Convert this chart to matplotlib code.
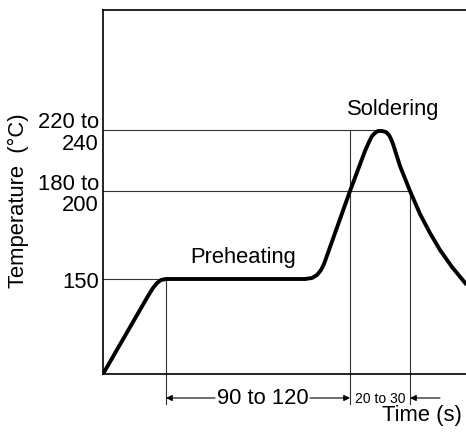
import numpy as np
import matplotlib
matplotlib.use("Agg")
import matplotlib.pyplot as plt

plt.rcParams['font.family'] = ['Liberation Sans', 'DejaVu Sans']

# schematic reflow profile (arbitrary plot units)
time_pts = [0, 45, 50, 54, 58, 63, 202, 209, 214, 218, 221, 247, 262, 266, 269,
            272, 275, 279, 283, 286, 288, 290, 297, 307, 317, 327, 337, 349, 363]
temp_pts = [0, 78, 86, 91, 94, 95, 95, 96, 99, 104, 110, 183, 223, 232, 238,
            241, 243, 243, 242, 239, 235, 230, 208, 183, 160, 141, 124, 107, 90]

# reference levels on the temperature axis
level_pos = [95, 183, 244]
level_labels = ['150', '180 to\n200', '220 to\n240']
level_ends = [63, 307, 277]      # where each guide line stops

# guide marks on the time axis
mark_pos = [63, 247, 307]
mark_tops = [95, 244, 183]

fig = plt.figure(figsize=(4.66, 4.39), dpi=100)
ax = fig.add_axes([103 / 466, 64 / 439, 363 / 466, 364 / 439])
ax.set_xlim(0, 363)
ax.set_ylim(0, 364)

gc = '#333333'
for y, xe in zip(level_pos, level_ends):
    ax.plot([0, xe], [y, y], color=gc, lw=0.8)
for x, yt in zip(mark_pos, mark_tops):
    ax.plot([x, x], [-30, yt], color=gc, lw=0.8, clip_on=False)

ax.plot(time_pts, temp_pts, color='black', lw=2.8, solid_capstyle='round',
        solid_joinstyle='round')

ax.spines['right'].set_visible(False)
for s in ['left', 'top', 'bottom']:
    ax.spines[s].set_linewidth(1.2)
ax.set_xticks([])
ax.set_yticks(level_pos)
ax.set_yticklabels(level_labels, fontsize=15.8, linespacing=1.05,
                   multialignment='right')
ax.tick_params(axis='y', length=0, pad=3)

ax.text(87, 118, 'Preheating', fontsize=15.8, va='center', ha='left')
ax.text(244, 265, 'Soldering', fontsize=15.8, va='center', ha='left')

# dimension arrows below the axis
ap = dict(arrowstyle='-|>', color='black', lw=0.8, mutation_scale=9,
          shrinkA=0, shrinkB=0)
ay = -24
ax.annotate('', xy=(mark_pos[0], ay), xytext=(112, ay), arrowprops=ap,
            annotation_clip=False)
ax.annotate('', xy=(mark_pos[1], ay), xytext=(207, ay), arrowprops=ap,
            annotation_clip=False)
ax.annotate('', xy=(mark_pos[2], ay), xytext=(337, ay), arrowprops=ap,
            annotation_clip=False)
ax.text(159.5, ay, '90 to 120', fontsize=15.8, ha='center', va='center')
ax.text(277, ay, '20 to 30', fontsize=10, ha='center', va='center')

fig.text(462 / 466, 1 - 416 / 439, 'Time (s)', fontsize=15.8, ha='right', va='center')
fig.text(18 / 466, 1 - 201 / 439, 'Temperature  (\u00b0C)', fontsize=15.8,
         rotation=90, ha='center', va='center')

fig.savefig('out.png', dpi=100)
